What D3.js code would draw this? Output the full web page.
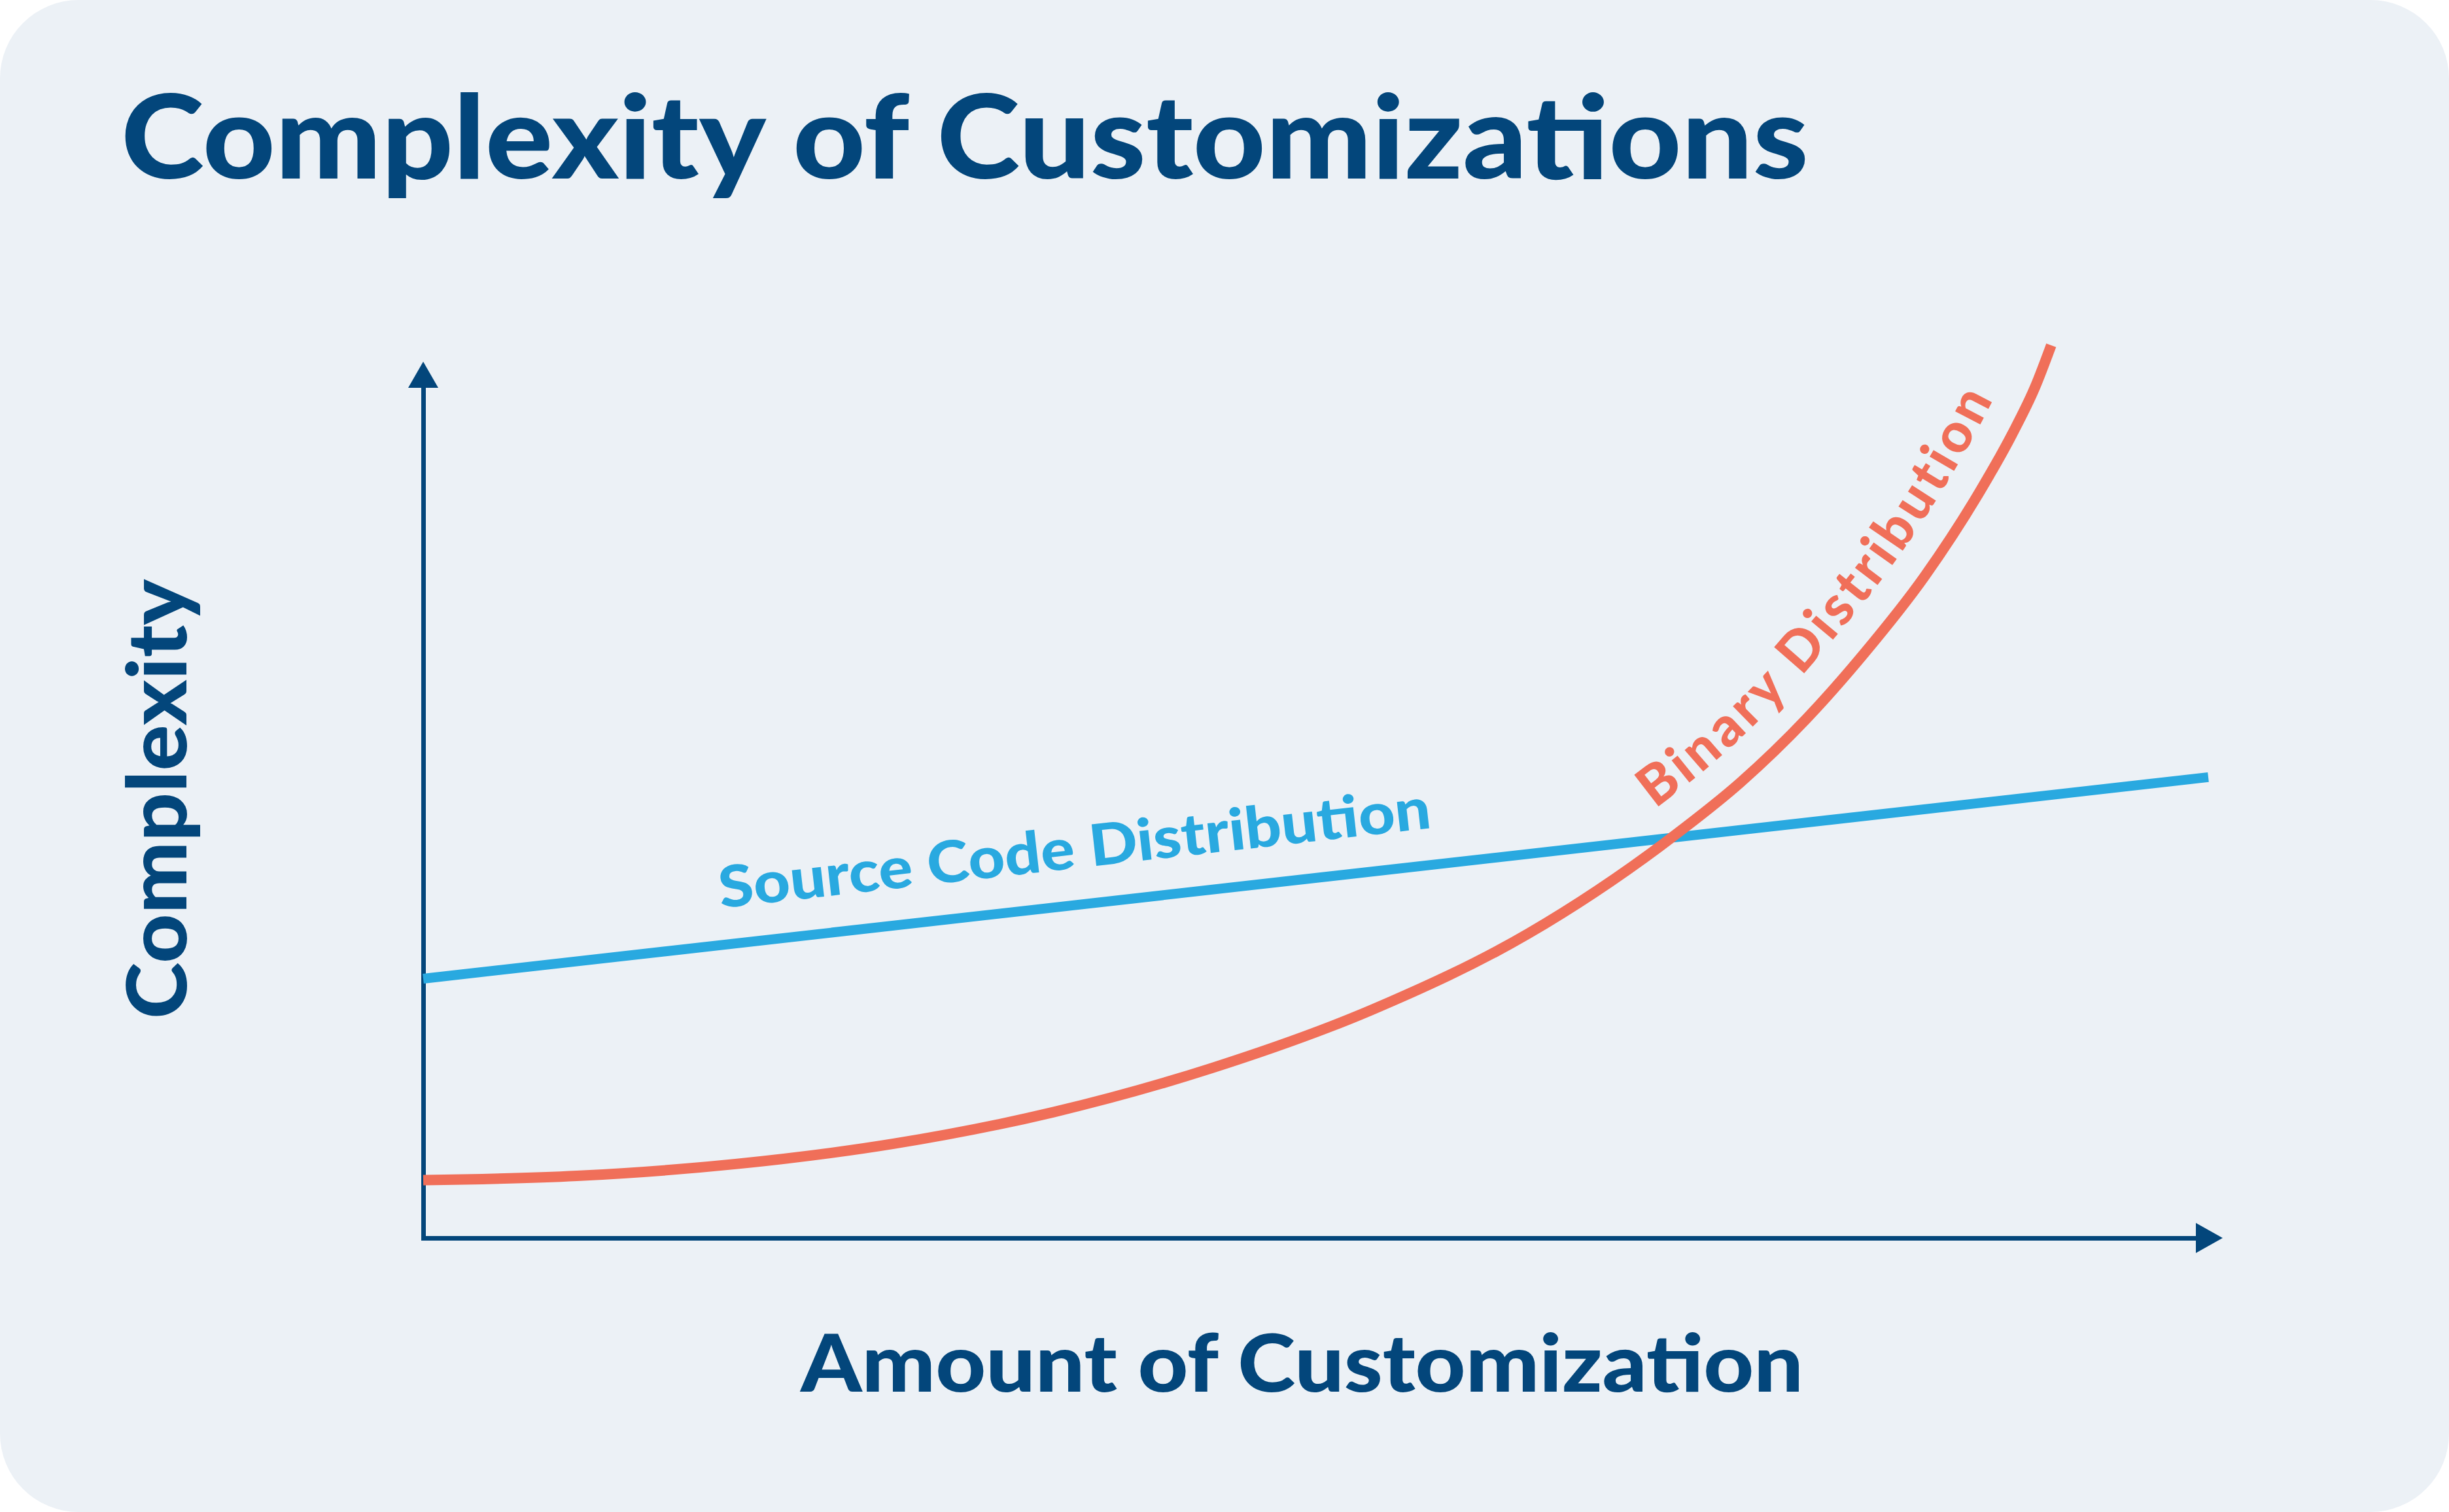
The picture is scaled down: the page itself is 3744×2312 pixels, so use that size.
<!DOCTYPE html>
<html><head><meta charset="utf-8">
<script src="https://cdn.jsdelivr.net/npm/d3@7"></script>
<style>html,body{margin:0;padding:0;background:#fff;} svg{display:block;}</style>
</head><body>
<script>
// ---- data ----
const seriesNames = ["Source Code Distribution", "Binary Distribution"];
const sourceCodeX = [0, 100];
const sourceCodeY = [30.5, 54.2];
const binaryX = [0, 8.6, 17.5, 26.4, 35.3, 44.2, 53.1, 61.9, 70.0, 73.8, 77.5, 80.7, 84.1, 87.2, 89.0, 90.3, 91.2];
const binaryY = [6.8, 7.3, 8.7, 11.1, 14.8, 20.0, 26.8, 35.8, 47.2, 53.6, 61.1, 68.7, 77.8, 87.8, 94.5, 100.1, 105.0];
const titleText = "Complexity of Customizations";
const xLabelText = "Amount of Customization";
const yLabelText = "Complexity";

// ---- layout ----
const W = 3744, H = 2312;
const FONT = "Lato, 'Open Sans', 'Noto Sans', sans-serif";
const NAVY = "#03467b", BLUE = "#29a9e0", RED = "#f06f59", BG = "#ecf1f6";

const svg = d3.select("body").append("svg").attr("width", W).attr("height", H);
svg.append("rect").attr("x", 0).attr("y", 0).attr("width", W).attr("height", H)
  .attr("rx", 120).attr("ry", 120).attr("fill", BG);

const x = d3.scaleLinear().domain([0, 100]).range([647, 3376]);
const y = d3.scaleLinear().domain([0, 100]).range([1893, 593]);

// axes (no ticks) drawn with d3 axis generators
const xAxisScale = x.copy().domain([0, x.invert(3360)]).range([647, 3360]);
const yAxisScale = y.copy();
const gx = svg.append("g").attr("transform", `translate(0,${y(0)})`)
  .call(d3.axisBottom(xAxisScale).tickValues([]).tickSizeOuter(0));
const gy = svg.append("g").attr("transform", `translate(${x(0)},0)`)
  .call(d3.axisLeft(yAxisScale).tickValues([]).tickSizeOuter(0));
[gx, gy].forEach(g => g.select(".domain").attr("stroke", NAVY).attr("stroke-width", 7).attr("stroke-linecap", "square"));

// arrow heads
const xEnd = xAxisScale.range()[1], yEnd = y(100);
svg.append("path").attr("fill", NAVY)
  .attr("d", `M${xEnd - 3},${y(0) - 23}L${xEnd + 38},${y(0)}L${xEnd - 3},${y(0) + 23}Z`);
svg.append("path").attr("fill", NAVY)
  .attr("d", `M${x(0) - 23},${yEnd}L${x(0)},${yEnd - 40}L${x(0) + 23},${yEnd}Z`);

// series
const blueData = sourceCodeX.map((v, i) => [v, sourceCodeY[i]]);
const redData = binaryX.map((v, i) => [v, binaryY[i]]);
const line = d3.line().x(d => x(d[0])).y(d => y(d[1]));
svg.append("path").datum(blueData).attr("d", line).attr("fill", "none")
  .attr("stroke", BLUE).attr("stroke-width", 15);
const redPath = svg.append("path").datum(redData).attr("d", line.curve(d3.curveMonotoneX))
  .attr("fill", "none").attr("stroke", RED).attr("stroke-width", 16);

// ---- text ----
function fit(sel, len) {
  sel.attr("textLength", len).attr("lengthAdjust", "spacingAndGlyphs");
}
const title = svg.append("text").attr("x", 185).attr("y", 273)
  .attr("font-family", FONT).attr("font-weight", 900).attr("font-size", 178)
  .attr("fill", NAVY).text(titleText);
fit(title, 2580);

const xl = svg.append("text").attr("x", 1224).attr("y", 2128)
  .attr("font-family", FONT).attr("font-weight", 900).attr("font-size", 122)
  .attr("fill", NAVY).text(xLabelText);
fit(xl, 1533);

const yl = svg.append("text").attr("transform", "translate(285,1222) rotate(-90)")
  .attr("text-anchor", "middle")
  .attr("font-family", FONT).attr("font-weight", 900).attr("font-size", 125)
  .attr("fill", NAVY).text(yLabelText);
fit(yl, 672);

// Source code label, parallel to blue line
{
  const a = Math.atan2(y(sourceCodeY[1]) - y(sourceCodeY[0]), x(sourceCodeX[1]) - x(sourceCodeX[0]));
  const t = 16.9;
  const py = d3.scaleLinear().domain(sourceCodeX).range(sourceCodeY);
  const p0 = [x(t), y(py(t))];
  const n = [Math.sin(a), -Math.cos(a)];
  const px = p0[0] + 56 * n[0], pyy = p0[1] + 56 * n[1];
  const st = svg.append("text")
    .attr("transform", `translate(${px},${pyy}) rotate(${a * 180 / Math.PI})`)
    .attr("font-family", FONT).attr("font-weight", 900).attr("font-size", 88)
    .attr("fill", BLUE).text(seriesNames[0]);
  fit(st, 1095);
}

// Binary label, following the red curve
{
  const node = redPath.node();
  const L = node.getTotalLength();
  const N = 600, off = 50;
  const pts = [];
  for (let i = 0; i <= N; i++) {
    const l = L * i / N;
    const p = node.getPointAtLength(l);
    const p2 = node.getPointAtLength(Math.min(L, l + 2));
    const p1 = node.getPointAtLength(Math.max(0, l - 2));
    let tx = p2.x - p1.x, ty = p2.y - p1.y;
    const m = Math.hypot(tx, ty) || 1; tx /= m; ty /= m;
    pts.push([p.x + ty * off, p.y - tx * off]);
  }
  const defs = svg.append("defs");
  const op = defs.append("path").attr("id", "binOffset").attr("d", d3.line().curve(d3.curveBasis)(pts));
  const on = op.node();
  const OL = on.getTotalLength();
  function closest(tx, ty) {
    let best = 0, bd = Infinity;
    for (let l = 0; l <= OL; l += 2) {
      const p = on.getPointAtLength(l);
      const d = (p.x - tx) ** 2 + (p.y - ty) ** 2;
      if (d < bd) { bd = d; best = l; }
    }
    return best;
  }
  const s = closest(2530, 1237), e = closest(3050, 610);
  const target = e - s;
  const fs = 84;
  const tmp = svg.append("text").attr("font-family", FONT).attr("font-weight", 900)
    .attr("font-size", fs).text(seriesNames[1]);
  const nat = tmp.node().getComputedTextLength();
  tmp.remove();
  const ls = (target - nat) / (seriesNames[1].length - 1);
  svg.append("text").attr("font-family", FONT).attr("font-weight", 900).attr("font-size", fs)
    .attr("fill", RED).attr("letter-spacing", ls)
    .append("textPath").attr("href", "#binOffset").attr("startOffset", s)
    .text(seriesNames[1]);
}
</script>
</body></html>
